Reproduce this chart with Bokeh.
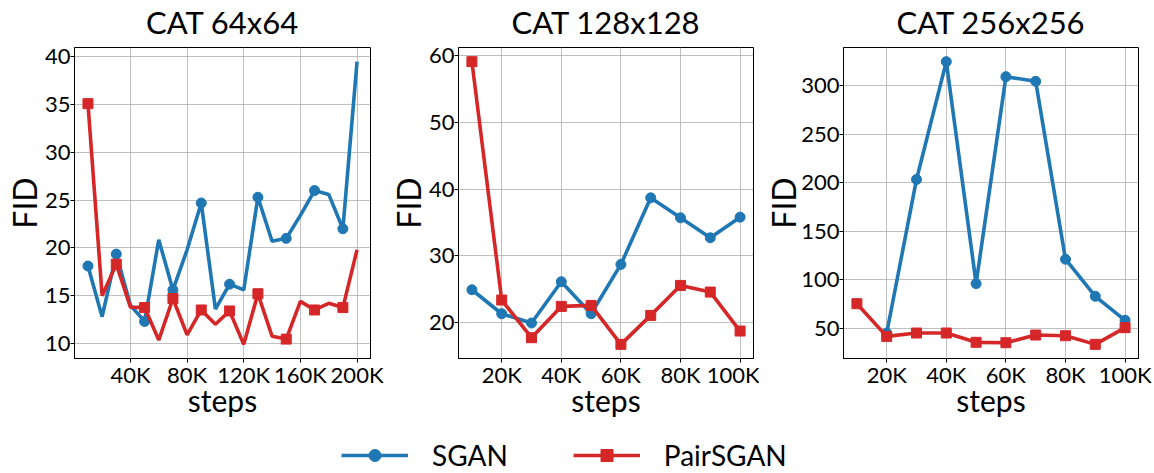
from bokeh.plotting import figure
from bokeh.layouts import column, row
from bokeh.models import Range1d, FixedTicker, Legend, LegendItem, Label
from bokeh.embed import file_html
from bokeh.resources import INLINE

FONT = "Lato"
BLUE = "#1f77b4"
RED = "#d62728"

# CAT 64x64
steps_64 = [10000, 20000, 30000, 40000, 50000, 60000, 70000, 80000, 90000, 100000,
            110000, 120000, 130000, 140000, 150000, 160000, 170000, 180000, 190000, 200000]
sgan_64 = [18.1, 12.8, 19.35, 14.0, 12.3, 20.85, 15.6, 19.8, 24.7, 13.6,
           16.2, 15.6, 25.3, 20.7, 21.0, 23.4, 26.0, 25.6, 22.0, 39.5]
pair_64 = [35.1, 15.0, 18.3, 13.8, 13.75, 10.35, 14.7, 10.9, 13.5, 12.0,
           13.4, 9.9, 15.2, 10.75, 10.45, 14.4, 13.5, 14.2, 13.75, 19.8]

# CAT 128x128
steps_128 = [10000, 20000, 30000, 40000, 50000, 60000, 70000, 80000, 90000, 100000]
sgan_128 = [24.9, 21.3, 19.9, 26.1, 21.3, 28.7, 38.7, 35.7, 32.7, 35.8]
pair_128 = [59.15, 23.35, 17.7, 22.4, 22.55, 16.7, 21.05, 25.55, 24.55, 18.7]

# CAT 256x256
steps_256_sgan = [20000, 30000, 40000, 50000, 60000, 70000, 80000, 90000, 100000]
sgan_256 = [45.2, 203.4, 324.8, 96.1, 309.3, 304.5, 121.2, 83.0, 58.3]
steps_256_pair = [10000, 20000, 30000, 40000, 50000, 60000, 70000, 80000, 90000, 100000]
pair_256 = [75.4, 41.7, 45.2, 45.2, 35.6, 35.2, 43.1, 42.4, 33.5, 50.7]

titles = ["CAT 64x64", "CAT 128x128", "CAT 256x256"]
xticks_64 = [40000, 80000, 120000, 160000, 200000]
xticks_100 = [20000, 40000, 60000, 80000, 100000]
yticks_64 = [10, 15, 20, 25, 30, 35, 40]
yticks_128 = [20, 30, 40, 50, 60]
yticks_256 = [50, 100, 150, 200, 250, 300]

# page layout (pixels)
PAGE_W = 1154
HEADER_H = 41
PANEL_H = 379
LEGEND_H = 53
# (figure width, left border, right border, y-label standoff) for each panel
PANELS = [(384, 74, 14, -2), (375, 74, 6, -2), (395, 84, 16, -5)]


def padded(lo, hi, frac=0.05):
    d = (hi - lo) * frac
    return lo - d, hi + d


def panel(xs_s, ys_s, xs_p, ys_p, xticks, yticks, every, geom):
    width, left, right, label_gap = geom
    x0, x1 = padded(min(xs_s + xs_p), max(xs_s + xs_p))
    y0, y1 = padded(min(ys_s + ys_p), max(ys_s + ys_p))
    p = figure(width=width, height=PANEL_H, output_backend="svg", toolbar_location=None,
               x_range=Range1d(x0, x1), y_range=Range1d(y0, y1))
    p.min_border_left = left
    p.min_border_right = right
    p.min_border_top = 6
    p.min_border_bottom = 62
    p.background_fill_color = "white"
    p.border_fill_color = "white"
    p.outline_line_color = "black"
    p.outline_line_width = 1
    p.outline_line_alpha = 1

    p.xaxis.ticker = FixedTicker(ticks=xticks)
    p.xaxis.major_label_overrides = {t: f"{t // 1000}K" for t in xticks}
    p.yaxis.ticker = FixedTicker(ticks=yticks)
    p.xaxis.axis_label = "steps"
    p.yaxis.axis_label = "FID"
    for ax in (p.xaxis, p.yaxis):
        ax.axis_label_text_font = FONT
        ax.axis_label_text_font_style = "normal"
        ax.axis_label_text_color = "black"
        ax.major_label_text_font = FONT
        ax.major_label_text_font_size = "22px"
        ax.major_label_text_color = "black"
        ax.axis_line_color = "black"
        ax.major_tick_line_color = "black"
        ax.major_tick_in = 0
        ax.major_tick_out = 4
        ax.minor_tick_line_color = None
    p.xaxis.major_label_standoff = -2
    p.yaxis.major_label_standoff = 0
    p.xaxis.axis_label_standoff = -9
    p.yaxis.axis_label_standoff = label_gap
    p.xaxis.axis_label_text_font_size = "30px"
    p.yaxis.axis_label_text_font_size = "32px"
    p.grid.grid_line_color = "#b0b0b0"
    p.grid.grid_line_width = 1
    p.grid.grid_line_alpha = 0.8

    p.line(xs_s, ys_s, line_color=BLUE, line_width=3.6)
    p.scatter(xs_s[::every], ys_s[::every], marker="circle", size=10,
              fill_color=BLUE, line_color=BLUE)
    p.line(xs_p, ys_p, line_color=RED, line_width=3.6)
    p.scatter(xs_p[::every], ys_p[::every], marker="square", size=10,
              fill_color=RED, line_color=RED)
    return p


def strip(height):
    s = figure(width=PAGE_W, height=height, output_backend="svg", toolbar_location=None,
               x_range=Range1d(0, PAGE_W), y_range=Range1d(0, height),
               x_axis_type=None, y_axis_type=None)
    s.min_border = 0
    s.min_border_left = 0
    s.min_border_right = 0
    s.min_border_top = 0
    s.min_border_bottom = 0
    s.outline_line_color = None
    s.grid.visible = False
    return s


f1 = panel(steps_64, sgan_64, steps_64, pair_64, xticks_64, yticks_64, 2, PANELS[0])
f2 = panel(steps_128, sgan_128, steps_128, pair_128, xticks_100, yticks_128, 1, PANELS[1])
f3 = panel(steps_256_sgan, sgan_256, steps_256_pair, pair_256, xticks_100, yticks_256, 1,
           PANELS[2])

# Panel titles, centred over each plot frame
header = strip(HEADER_H)
start = 0
for (width, left, right, _), title in zip(PANELS, titles):
    centre = start + left + (width - left - right) / 2
    header.add_layout(Label(x=centre, y=HEADER_H - 21.5, text=title, text_align="center",
                            text_baseline="middle", text_font=FONT,
                            text_font_size="31px", text_color="black"))
    start += width

# Shared legend strip underneath the panels
lg = strip(LEGEND_H)
nan = [float("nan")]
l1 = lg.line(nan, nan, line_color=BLUE, line_width=3.6)
s1 = lg.scatter(nan, nan, marker="circle", size=10, fill_color=BLUE, line_color=BLUE)
l2 = lg.line(nan, nan, line_color=RED, line_width=3.6)
s2 = lg.scatter(nan, nan, marker="square", size=10, fill_color=RED, line_color=RED)
legend = Legend(items=[LegendItem(label="SGAN", renderers=[l1, s1]),
                       LegendItem(label="PairSGAN", renderers=[l2, s2])],
                orientation="horizontal", location=(341, 1))
legend.padding = 0
legend.margin = 0
legend.spacing = 65
legend.label_standoff = 24
legend.glyph_width = 67
legend.glyph_height = 30
legend.label_height = 30
legend.label_text_font = FONT
legend.label_text_font_size = "28px"
legend.label_text_color = "black"
legend.border_line_alpha = 0
legend.background_fill_alpha = 0
lg.add_layout(legend, "center")

layout = column(header, row(f1, f2, f3), lg)
open("out.html", "w").write(file_html(layout, INLINE))
